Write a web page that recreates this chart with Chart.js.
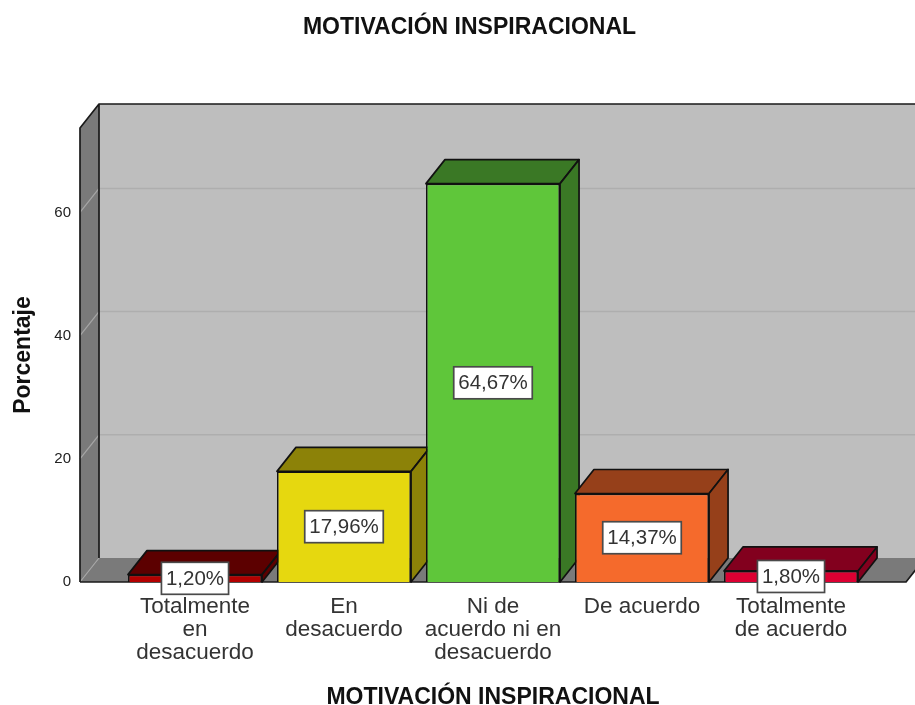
<!DOCTYPE html>
<html>
<head>
<meta charset="utf-8">
<style>html,body{margin:0;padding:0;background:#fff}canvas{display:block}</style>
<script src="https://cdn.jsdelivr.net/npm/chart.js@4"></script>
</head>
<body>
<canvas id="c" width="915" height="705"></canvas>
<script>
const categories = [["Totalmente","en","desacuerdo"],["En","desacuerdo"],["Ni de","acuerdo ni en","desacuerdo"],["De acuerdo"],["Totalmente","de acuerdo"]];
const values = [1.20, 17.96, 64.67, 14.37, 1.80];
const valueLabels = ["1,20%","17,96%","64,67%","14,37%","1,80%"];
const frontColors = ["#B30000","#E6D80F","#5FC63A","#F56A2C","#DC0032"];
const shadeColors = ["#5C0000","#8C8208","#3A7825","#96401A","#82001E"];
const yTicks = [0,20,40,60];
const titleText = "MOTIVACIÓN INSPIRACIONAL";
const xTitleText = "MOTIVACIÓN INSPIRACIONAL";
const yTitleText = "Porcentaje";
const DX = 19, DY = -24;
const FONT = '"Liberation Sans", Arial, sans-serif';

function poly(ctx, pts, fill, stroke, lw){
  ctx.beginPath();
  pts.forEach((p,i)=> i?ctx.lineTo(p[0],p[1]):ctx.moveTo(p[0],p[1]));
  ctx.closePath();
  if(fill){ctx.fillStyle=fill;ctx.fill();}
  if(stroke){ctx.strokeStyle=stroke;ctx.lineWidth=lw||1.7;ctx.lineJoin='round';ctx.stroke();}
}
const box3d = {
  id:'box3d',
  afterLayout(chart){
    const t = chart.titleBlock;
    if(t){t.left = 0; t.right = 939;}
  },
  beforeDatasetsDraw(chart){
    const {ctx, scales:{y}} = chart;
    const yTop = chart.chartArea.top, y0 = y.getPixelForValue(0);
    const L = 80, R = 906;
    ctx.save();
    poly(ctx,[[L+DX,yTop+DY],[R+DX,yTop+DY],[R+DX,y0+DY],[L+DX,y0+DY]],'#BEBEBE');
    poly(ctx,[[L,yTop],[L+DX,yTop+DY],[L+DX,y0+DY],[L,y0]],'#7A7A7A');
    poly(ctx,[[L,y0],[L+DX,y0+DY],[R+DX,y0+DY],[R,y0]],'#7A7A7A');
    yTicks.forEach(v=>{
      const py = y.getPixelForValue(v);
      if(v>0){
        ctx.strokeStyle='#AEAEAE';ctx.lineWidth=1.5;
        ctx.beginPath();ctx.moveTo(L+DX,py+DY);ctx.lineTo(R+DX,py+DY);ctx.stroke();
      }
      ctx.strokeStyle='#A6A6A6';ctx.lineWidth=1.2;
      ctx.beginPath();ctx.moveTo(L,py);ctx.lineTo(L+DX,py+DY);ctx.stroke();
    });
    ctx.strokeStyle='#1a1a1a';ctx.lineWidth=1.7;ctx.lineJoin='round';
    ctx.beginPath();
    ctx.moveTo(L,y0);ctx.lineTo(L,yTop);ctx.lineTo(L+DX,yTop+DY);ctx.lineTo(R+DX+10,yTop+DY);
    ctx.moveTo(L+DX,yTop+DY);ctx.lineTo(L+DX,y0+DY);
    ctx.moveTo(L,y0);ctx.lineTo(R,y0);ctx.lineTo(R+DX,y0+DY);
    ctx.stroke();
    const meta = chart.getDatasetMeta(0);
    meta.data.forEach((b,i)=>{
      const l=b.x-b.width/2, r=b.x+b.width/2, t=b.y, bt=b.base;
      poly(ctx,[[l,t],[l+DX,t+DY],[r+DX,t+DY],[r,t]],shadeColors[i],'#111');
      poly(ctx,[[r,t],[r+DX,t+DY],[r+DX,bt+DY],[r,bt]],shadeColors[i],'#111');
    });
    ctx.restore();
  },
  afterDatasetsDraw(chart){
    const {ctx} = chart;
    const meta = chart.getDatasetMeta(0);
    ctx.save();
    ctx.font = '20.5px '+FONT;
    ctx.textAlign='center';ctx.textBaseline='middle';
    meta.data.forEach((b,i)=>{
      const cx=b.x, cy=(b.y+b.base)/2, w=ctx.measureText(valueLabels[i]).width+9, h=32;
      ctx.fillStyle='#fff';ctx.strokeStyle='#4a4a4a';ctx.lineWidth=1.7;
      ctx.fillRect(cx-w/2,cy-h/2,w,h);ctx.strokeRect(cx-w/2,cy-h/2,w,h);
      ctx.fillStyle='#333';ctx.fillText(valueLabels[i],cx,cy+1);
    });
    ctx.restore();
  }
};
new Chart(document.getElementById('c').getContext('2d'),{
  type:'bar',
  data:{labels:categories,datasets:[{
    data:values,backgroundColor:frontColors,borderColor:'#111',borderWidth:1.7,
    barPercentage:1,categoryPercentage:0.9,clip:false
  }]},
  plugins:[box3d],
  options:{
    responsive:false,animation:false,devicePixelRatio:1,
    layout:{padding:{left:0,right:49.5,top:0,bottom:0}},
    plugins:{
      legend:{display:false},tooltip:{enabled:false},
      title:{display:true,text:titleText,color:'#111',
        font:{family:FONT,size:23,weight:'bold',lineHeight:1.2},
        padding:{top:14,bottom:86.4}}
    },
    scales:{
      x:{
        grid:{display:false},border:{display:false},
        afterFit(s){s.height=123;},
        ticks:{autoSkip:false,maxRotation:0,minRotation:0,color:'#333',padding:5,
          font:{family:FONT,size:22.5,lineHeight:1.02}},
        title:{display:true,text:xTitleText,color:'#111',
          font:{family:FONT,size:23,weight:'bold',lineHeight:0.6},padding:0}
      },
      y:{
        min:0,max:73.7,
        grid:{display:false,drawTicks:false},border:{display:false},
        afterFit(s){s.width=120.5;},
        afterBuildTicks(s){s.ticks=yTicks.map(v=>({value:v}));},
        ticks:{color:'#222',padding:49.5,includeBounds:false,
          font:{family:FONT,size:15}},
        title:{display:true,text:yTitleText,color:'#111',
          font:{family:FONT,size:23,weight:'bold',lineHeight:1},padding:{top:12,bottom:0}}
      }
    }
  }
});
</script>
</body>
</html>
